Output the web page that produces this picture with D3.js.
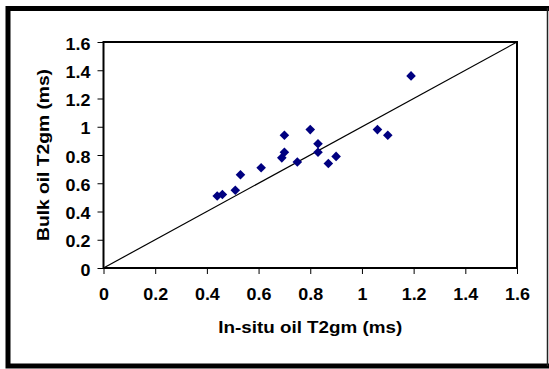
<!DOCTYPE html>
<html>
<head>
<meta charset="utf-8">
<script src="https://cdn.jsdelivr.net/npm/d3@7"></script>
<style>
  body { margin: 0; background: #fff; }
  svg text { font-family: "Liberation Sans", Arial, sans-serif; font-weight: bold; fill: #000; }
</style>
</head>
<body>
<script>
// in-situ vs bulk oil T2gm
var insitu = [0.44, 0.46, 0.51, 0.53, 0.61, 0.69, 0.70, 0.70, 0.75, 0.80, 0.83, 0.83, 0.87, 0.90, 1.06, 1.10, 1.19];
var bulk   = [0.51, 0.52, 0.55, 0.66, 0.71, 0.78, 0.82, 0.94, 0.75, 0.98, 0.88, 0.82, 0.74, 0.79, 0.98, 0.94, 1.36];
var tickVals = [0, 0.2, 0.4, 0.6, 0.8, 1, 1.2, 1.4, 1.6];
var lineEnds = [0, 1.6];   // 1:1 line

var svgWidth = 549, svgHeight = 369;
var margin = { top: 42, right: 32, bottom: 101, left: 103.5 };
var width = svgWidth - margin.left - margin.right;
var height = svgHeight - margin.top - margin.bottom;

var svg = d3.select("body").append("svg")
  .attr("width", svgWidth)
  .attr("height", svgHeight);

// outer frame (thick on three sides, thin on the right)
svg.append("path")
  .attr("d", "M551,8.5 H8 V366 H551")
  .attr("fill", "none")
  .attr("stroke", "#000")
  .attr("stroke-width", 5);
svg.append("line")
  .attr("x1", 547.5).attr("x2", 547.5)
  .attr("y1", 8).attr("y2", 366)
  .attr("stroke", "#222")
  .attr("stroke-width", 1.5);

var chart = svg.append("g")
  .attr("transform", `translate(${margin.left}, ${margin.top})`);

var x = d3.scaleLinear().domain([0, 1.6]).range([0, width]);
var y = d3.scaleLinear().domain([0, 1.6]).range([height, 0]);

var fmt = function(d) { return d3.format("")(+d.toFixed(1)); };

var xAxis = chart.append("g")
  .attr("transform", "translate(0," + height + ")")
  .call(d3.axisBottom(x).tickValues(tickVals).tickSize(6).tickPadding(15).tickFormat(fmt));
var yAxis = chart.append("g")
  .call(d3.axisLeft(y).tickValues(tickVals).tickSize(6).tickPadding(7).tickFormat(fmt));

[xAxis, yAxis].forEach(function(a) {
  a.select(".domain").remove();
  a.selectAll("line").attr("stroke", "#000");
  a.selectAll("text").style("font-size", "16px").attr("font-family", null);
});
// labels in the picture are a bit wider than plain Arial
xAxis.selectAll("text")
  .attr("transform", "translate(0,21) scale(1.12,1)")
  .attr("y", 0);
yAxis.selectAll("text")
  .attr("transform", "translate(-13,0) scale(1.12,1)")
  .attr("x", 0)
  .attr("dy", "0.45em");

// plot box
chart.append("rect")
  .attr("width", width)
  .attr("height", height)
  .attr("fill", "none")
  .attr("stroke", "#000")
  .attr("stroke-width", 2);

// 1:1 line
chart.append("line")
  .attr("x1", x(lineEnds[0])).attr("y1", y(lineEnds[0]))
  .attr("x2", x(lineEnds[1])).attr("y2", y(lineEnds[1]))
  .attr("stroke", "#000")
  .attr("stroke-width", 1.2);

// diamonds
var r = 4.8;
chart.append("g")
  .selectAll("path")
  .data(insitu.map(function(v, i) { return [v, bulk[i]]; }))
  .enter().append("path")
    .attr("d", function(d) {
      var cx = x(d[0]), cy = y(d[1]);
      return `M${cx},${cy - r} L${cx + r},${cy} L${cx},${cy + r} L${cx - r},${cy} Z`;
    })
    .attr("fill", "#000080");

// axis titles
chart.append("text")
  .attr("x", width / 2)
  .attr("y", height + 65)
  .attr("text-anchor", "middle")
  .attr("textLength", 184)
  .attr("lengthAdjust", "spacingAndGlyphs")
  .style("font-size", "17px")
  .text("In-situ oil T2gm (ms)");

chart.append("text")
  .attr("transform", "translate(" + (-54.5) + "," + (height / 2) + ") rotate(-90)")
  .attr("text-anchor", "middle")
  .attr("textLength", 172)
  .attr("lengthAdjust", "spacingAndGlyphs")
  .style("font-size", "17px")
  .text("Bulk oil T2gm (ms)");
</script>
</body>
</html>
